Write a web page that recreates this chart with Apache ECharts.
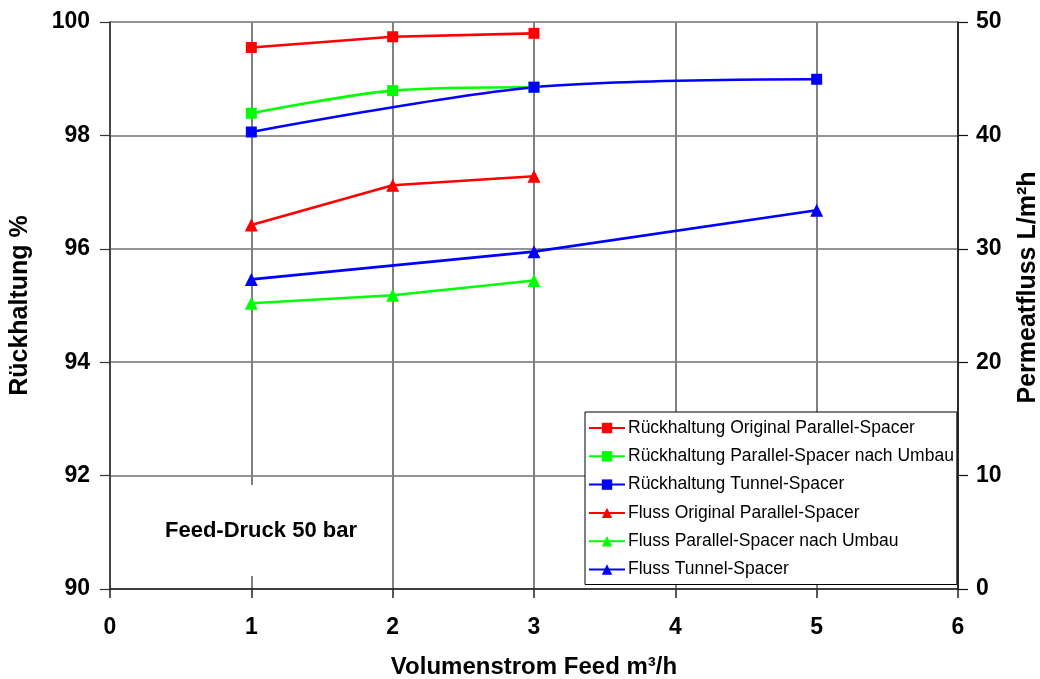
<!DOCTYPE html>
<html>
<head>
<meta charset="utf-8">
<script src="https://cdn.jsdelivr.net/npm/echarts@6/dist/echarts.min.js"></script>
<style>
  html, body { margin: 0; padding: 0; background: #ffffff; overflow: hidden; }
  #chart { width: 1040px; height: 679px; }
</style>
</head>
<body>
<div id="chart"></div>
<script>
// Volumenstrom Feed (m³/h)
const xOriginal = [1, 2, 3];
const xUmbau = [1, 2, 3];
const xTunnel = [1, 3, 5];

// Rückhaltung in % (linke Achse)
const rueckOriginal = [99.55, 99.74, 99.80];
const rueckUmbau = [98.39, 98.79, 98.85];
const rueckTunnel = [98.06, 98.85, 98.99];

// Permeatfluss in L/m²h (rechte Achse)
const flussOriginal = [32.1, 35.6, 36.4];
const flussUmbau = [25.2, 25.9, 27.2];
const flussTunnel = [27.3, 29.75, 33.4];

const seriesNames = [
  'Rückhaltung Original Parallel-Spacer',
  'Rückhaltung Parallel-Spacer nach Umbau',
  'Rückhaltung Tunnel-Spacer',
  'Fluss Original Parallel-Spacer',
  'Fluss Parallel-Spacer nach Umbau',
  'Fluss Tunnel-Spacer'
];

const FONT = 'Arial, "Liberation Sans", sans-serif';
const RED = '#ff0000', GREEN = '#00ff00', BLUE = '#0000ff';

function pairs(xs, ys) { return xs.map((x, i) => [x, ys[i]]); }

function lineSeries(name, xs, ys, color, symbol, size, yAxisIndex, smooth) {
  return {
    name: name,
    type: 'line',
    yAxisIndex: yAxisIndex,
    data: pairs(xs, ys),
    smooth: smooth,
    symbol: symbol,
    symbolSize: size,
    showAllSymbol: true,
    lineStyle: { color: color, width: 2.6 },
    itemStyle: { color: color },
    emphasis: { disabled: true },
    z: 5
  };
}

const chart = echarts.init(document.getElementById('chart'), null, { renderer: 'canvas' });

const option = {
  animation: false,
  backgroundColor: '#ffffff',
  textStyle: { fontFamily: FONT },
  grid: { left: 110, right: 82, top: 22, bottom: 90, containLabel: false, outerBoundsMode: 'none' },
  xAxis: {
    type: 'value',
    min: 0, max: 6, interval: 1,
    name: 'Volumenstrom Feed m³/h',
    nameLocation: 'middle',
    nameGap: 66,
    nameTextStyle: { color: '#000', fontSize: 24, fontWeight: 'bold', fontFamily: FONT },
    axisLine: { show: true, onZero: false, lineStyle: { color: '#222', width: 1.5 } },
    axisTick: { show: true, length: 9, lineStyle: { color: '#222', width: 1.5 } },
    axisLabel: { color: '#000', fontSize: 23, fontWeight: 'bold', margin: 27, fontFamily: FONT },
    splitLine: { show: true, lineStyle: { color: '#808080', width: 2 } }
  },
  yAxis: [
    {
      type: 'value',
      position: 'left',
      min: 90, max: 100, interval: 2,
      name: 'Rückhaltung %',
      nameLocation: 'middle',
      nameRotate: 90,
      nameGap: 77,
      nameTextStyle: { color: '#000', fontSize: 25, fontWeight: 'bold', fontFamily: FONT },
      axisLine: { show: true, lineStyle: { color: '#333', width: 1.5 } },
      axisTick: { show: true, length: 10, lineStyle: { color: '#333', width: 1.2 } },
      axisLabel: { color: '#000', fontSize: 23, fontWeight: 'bold', margin: 20, fontFamily: FONT },
      splitLine: { show: true, lineStyle: { color: '#707070', width: 1.6 } }
    },
    {
      type: 'value',
      position: 'right',
      min: 0, max: 50, interval: 10,
      name: 'Permeatfluss L/m²h',
      nameLocation: 'middle',
      nameRotate: 90,
      nameGap: 58,
      nameTextStyle: { color: '#000', fontSize: 25, fontWeight: 'bold', fontFamily: FONT, padding: [0, 0, 0, 36] },
      axisLine: { show: true, lineStyle: { color: '#111', width: 1.5 } },
      axisTick: { show: true, length: 10, lineStyle: { color: '#111', width: 1.2 } },
      axisLabel: { color: '#000', fontSize: 23, fontWeight: 'bold', margin: 18, fontFamily: FONT },
      splitLine: { show: false }
    }
  ],
  legend: {
    orient: 'vertical',
    left: 585,
    top: 412,
    data: seriesNames,
    backgroundColor: '#ffffff',
    borderColor: '#000000',
    borderWidth: 1,
    borderRadius: 0,
    padding: [6, 3, 5, 3],
    itemWidth: 36,
    itemHeight: 13,
    itemGap: 8.3,
    textStyle: { color: '#000', fontSize: 17.5, fontFamily: FONT, lineHeight: 20, padding: [0, 0, 0, -2] },
    selectedMode: false,
    z: 10
  },
  graphic: [
    {
      type: 'rect',
      shape: { x: 112, y: 485, width: 270, height: 91 },
      style: { fill: '#ffffff' },
      z: 1
    },
    {
      type: 'text',
      x: 165,
      y: 531,
      style: {
        text: 'Feed-Druck 50 bar',
        fill: '#000',
        font: 'bold 22px ' + FONT,
        textVerticalAlign: 'middle'
      },
      z: 2
    }
  ],
  series: [
    lineSeries(seriesNames[0], xOriginal, rueckOriginal, RED, 'rect', 11, 0, false),
    lineSeries(seriesNames[1], xUmbau, rueckUmbau, GREEN, 'rect', 11, 0, 0.3),
    lineSeries(seriesNames[2], xTunnel, rueckTunnel, BLUE, 'rect', 11, 0, 0.3),
    lineSeries(seriesNames[3], xOriginal, flussOriginal, RED, 'triangle', 13, 1, false),
    lineSeries(seriesNames[4], xUmbau, flussUmbau, GREEN, 'triangle', 13, 1, false),
    lineSeries(seriesNames[5], xTunnel, flussTunnel, BLUE, 'triangle', 13, 1, false)
  ]
};

chart.setOption(option);
</script>
</body>
</html>
